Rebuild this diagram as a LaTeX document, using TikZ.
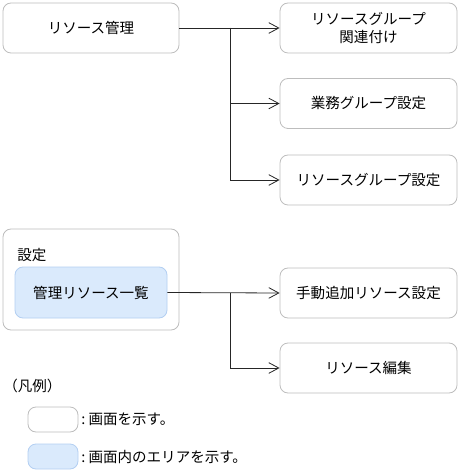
\documentclass[tikz,border=0pt]{standalone}
\usepackage{fontspec}
\setmainfont{Noto Sans CJK JP}
\usetikzlibrary{arrows.meta}
\definecolor{boxline}{HTML}{BDBDBD}
\definecolor{areafill}{HTML}{DAEAFC}
\definecolor{arealine}{HTML}{B3CFF2}
\tikzset{
  screen/.style={draw=boxline, fill=white, rounded corners=6pt, line width=0.6pt, align=center, font=\fontsize{10.9pt}{13pt}\selectfont, inner sep=0pt},
  area/.style={draw=arealine, fill=areafill, rounded corners=6pt, line width=0.6pt, align=center, font=\fontsize{10.9pt}{13pt}\selectfont, inner sep=0pt},
  conn/.style={draw=black!85, line width=0.6pt, -{Straight Barb[length=7.5pt,width=8pt]}},
  lbl/.style={font=\fontsize{10.9pt}{13pt}\selectfont, inner sep=0pt}
}
\begin{document}
\begin{tikzpicture}[x=0.75pt,y=-0.75pt]
\useasboundingbox (0,0) rectangle (460,473);
% top group
\node[screen, minimum width=132pt, minimum height=37.5pt] (rm) at (91,28) {リソース管理};
\node[screen, minimum width=132.75pt, minimum height=37.5pt] (rg) at (368.5,28) {リソースグループ\\関連付け};
\node[screen, minimum width=132.75pt, minimum height=37.5pt] (bg) at (368.5,103.5) {業務グループ設定};
\node[screen, minimum width=132.75pt, minimum height=37.5pt] (rs) at (368.5,180) {リソースグループ設定};
\coordinate (j1) at (230,28);
\draw[conn] (rm.east) -- (rg.west);
\draw[conn] (j1) |- (bg.west);
\draw[conn] (j1) |- (rs.west);
% settings group
\node[screen, minimum width=132pt, minimum height=75.75pt] (st) at (91,279.5) {};
\node[lbl, anchor=west] (stl) at (17,255) {設定};
\node[area, minimum width=114pt, minimum height=38.25pt] (ml) at (91,292.5) {管理リソース一覧};
\node[screen, minimum width=132.75pt, minimum height=37.5pt] (md) at (368.5,293) {手動追加リソース設定};
\node[screen, minimum width=132.75pt, minimum height=37.5pt] (re) at (368.5,368) {リソース編集};
\coordinate (j2) at (230,293);
\draw[conn] (ml.east) -- (md.west);
\draw[conn] (j2) |- (re.west);
% legend
\node[lbl, anchor=west] (lg) at (3,386) {（凡例）};
\node[screen, minimum width=37.5pt, minimum height=18.75pt] (l1) at (53,419.5) {};
\node[lbl, anchor=west] (l1t) at (81,419.5) {:\ 画面を示す。};
\node[area, minimum width=37.5pt, minimum height=18.75pt] (l2) at (53,456.5) {};
\node[lbl, anchor=west] (l2t) at (81,456.5) {:\ 画面内のエリアを示す。};
\end{tikzpicture}
\end{document}
